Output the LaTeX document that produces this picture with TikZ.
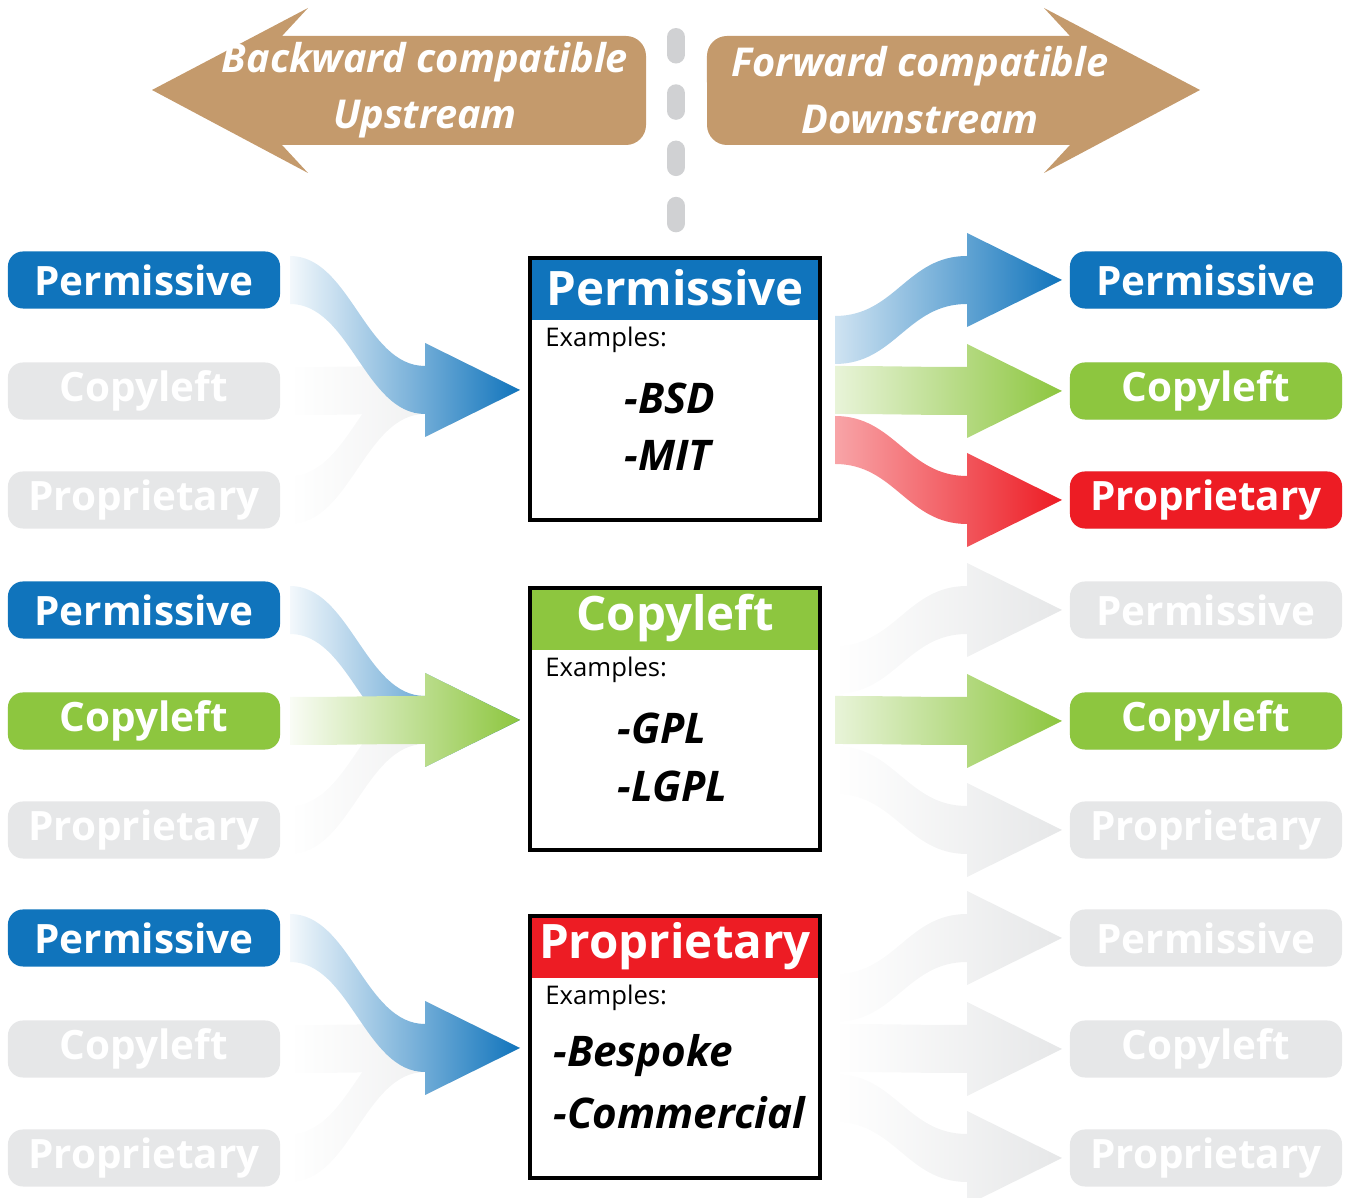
\documentclass[tikz,border=0pt]{standalone}
\usepackage{fontspec}
\setmainfont{Open Sans}
\usetikzlibrary{calc}
\definecolor{licBlue}{RGB}{16,116,188}
\definecolor{licGreen}{RGB}{141,198,63}
\definecolor{licRed}{RGB}{237,28,36}
\definecolor{licGray}{RGB}{230,231,232}
\definecolor{licBrown}{RGB}{196,154,108}
\definecolor{licDash}{RGB}{208,209,211}
% fat curved arrow: start, tip, colour, faded colour
\newcommand\flow[4]{%
  \shade[left color=#4, middle color=#3, right color=#3]
    ($(#1)+(0,-24)$) .. controls ($(#1)+(60,-24)$) and ($(#2)+(-155,-24)$) .. ($(#2)+(-95,-24)$)
    -- ($(#2)+(-95,-47)$) -- (#2) -- ($(#2)+(-95,47)$) -- ($(#2)+(-95,24)$)
    .. controls ($(#2)+(-155,24)$) and ($(#1)+(60,24)$) .. ($(#1)+(0,24)$) -- cycle;}
\begin{document}
\begin{tikzpicture}[x=0.01cm, y=-0.01cm]
  \tikzset{lic/.style={rectangle, rounded corners=0.15cm, minimum width=2.72cm, minimum height=0.57cm, text=white, font=\fontsize{11.5}{13}\selectfont\bfseries, inner sep=0pt},
    head/.style={font=\fontsize{13.5}{15}\selectfont\bfseries, text=white},
    ex/.style={anchor=west, font=\fontsize{7.3}{9}\selectfont},
    item/.style={anchor=west, font=\fontsize{12}{14}\selectfont\bfseries\itshape},
    top/.style={text=white, font=\fontsize{11.3}{13}\selectfont\bfseries\itshape, align=center}}
  \useasboundingbox (0,0) rectangle (1351,1198);

  % direction arrows
  \fill[licBrown] (152,90) -- (308,8) -- (282,36) -- (626,36) arc[start angle=90, end angle=0, radius=0.2cm]
    -- (646,125) arc[start angle=0, end angle=-90, radius=0.2cm] -- (282,145) -- (308,173) -- cycle;
  \fill[licBrown] (1200,90) -- (1044,8) -- (1070,36) -- (727,36) arc[start angle=90, end angle=180, radius=0.2cm]
    -- (707,125) arc[start angle=180, end angle=270, radius=0.2cm] -- (1070,145) -- (1044,173) -- cycle;
  \node[top] (bw) at (425,90) {Backward compatible\\[3pt]Upstream};
  \node[top] (fw) at (920,90) {Forward compatible\\[3pt]Downstream};
  \draw[licDash, line width=5.1pt, line cap=round, dash pattern=on 5pt off 11pt] (676,37) -- (676,228);

  % side labels
  \foreach \r/\y in {1/280, 2/610, 3/938} {
    \node[lic, fill=licBlue] (lp\r) at (144,\y) {Permissive};
    \node[lic, fill=licGray] (lc\r) at (144,\y+111) {Copyleft};
    \node[lic, fill=licGray] (lr\r) at (144,\y+220) {Proprietary};
    \node[lic, fill=licGray] (rp\r) at (1206,\y) {Permissive};
    \node[lic, fill=licGray] (rc\r) at (1206,\y+111) {Copyleft};
    \node[lic, fill=licGray] (rr\r) at (1206,\y+220) {Proprietary};
  }
  \node[lic, fill=licGreen] at (lc2) {Copyleft};
  \node[lic, fill=licBlue] at (rp1) {Permissive};
  \node[lic, fill=licGreen] at (rc1) {Copyleft};
  \node[lic, fill=licRed] at (rr1) {Proprietary};
  \node[lic, fill=licGreen] at (rc2) {Copyleft};

  % boxes
  \foreach \r/\y/\c/\t in {1/258/licBlue/Permissive, 2/588/licGreen/Copyleft, 3/916/licRed/Proprietary} {
    \fill[\c] (530,\y) rectangle (820,\y+62);
    \draw[line width=1.1pt] (530,\y) rectangle (820,\y+262);
    \node[head] (h\r) at (675,\y+30) {\t};
    \node[ex] (e\r) at (533,\y+82) {Examples:};
    \coordinate (t\r) at (520,\y+132);
    \coordinate (sa\r) at (835,\y+82);
    \coordinate (sb\r) at (835,\y+132);
    \coordinate (sc\r) at (835,\y+182);
    \coordinate (pp\r) at (290,\y+22);
    \coordinate (pc\r) at (290,\y+133);
    \coordinate (pr\r) at (290,\y+242);
    \coordinate (qp\r) at (1062,\y+22);
    \coordinate (qc\r) at (1062,\y+133);
    \coordinate (qr\r) at (1062,\y+242);
  }
  \node[item] (i1) at (612,398) {-BSD};
  \node[item] (i2) at (612,455) {-MIT};
  \node[item] (i3) at (605,728) {-GPL};
  \node[item] (i4) at (605,786) {-LGPL};
  \node[item] (i5) at (541,1056) {-Bespoke};
  \node[item] (i6) at (541,1113) {-Commercial};

  % gray flows
  \flow{pc1}{t1}{licGray}{white}
  \flow{pr1}{t1}{licGray}{white}
  \flow{pr2}{t2}{licGray}{white}
  \flow{pc3}{t3}{licGray}{white}
  \flow{pr3}{t3}{licGray}{white}
  \flow{sa2}{qp2}{licGray}{white}
  \flow{sc2}{qr2}{licGray}{white}
  \flow{sa3}{qp3}{licGray}{white}
  \flow{sb3}{qc3}{licGray}{white}
  \flow{sc3}{qr3}{licGray}{white}
  % coloured flows
  \flow{pp1}{t1}{licBlue}{licBlue!5}
  \flow{pp2}{t2}{licBlue}{licBlue!5}
  \flow{pc2}{t2}{licGreen}{licGreen!5}
  \flow{pp3}{t3}{licBlue}{licBlue!5}
  \flow{sc1}{qr1}{licRed}{licRed!40}
  \flow{sb1}{qc1}{licGreen}{licGreen!20}
  \flow{sa1}{qp1}{licBlue}{licBlue!20}
  \flow{sb2}{qc2}{licGreen}{licGreen!20}
\end{tikzpicture}
\end{document}
